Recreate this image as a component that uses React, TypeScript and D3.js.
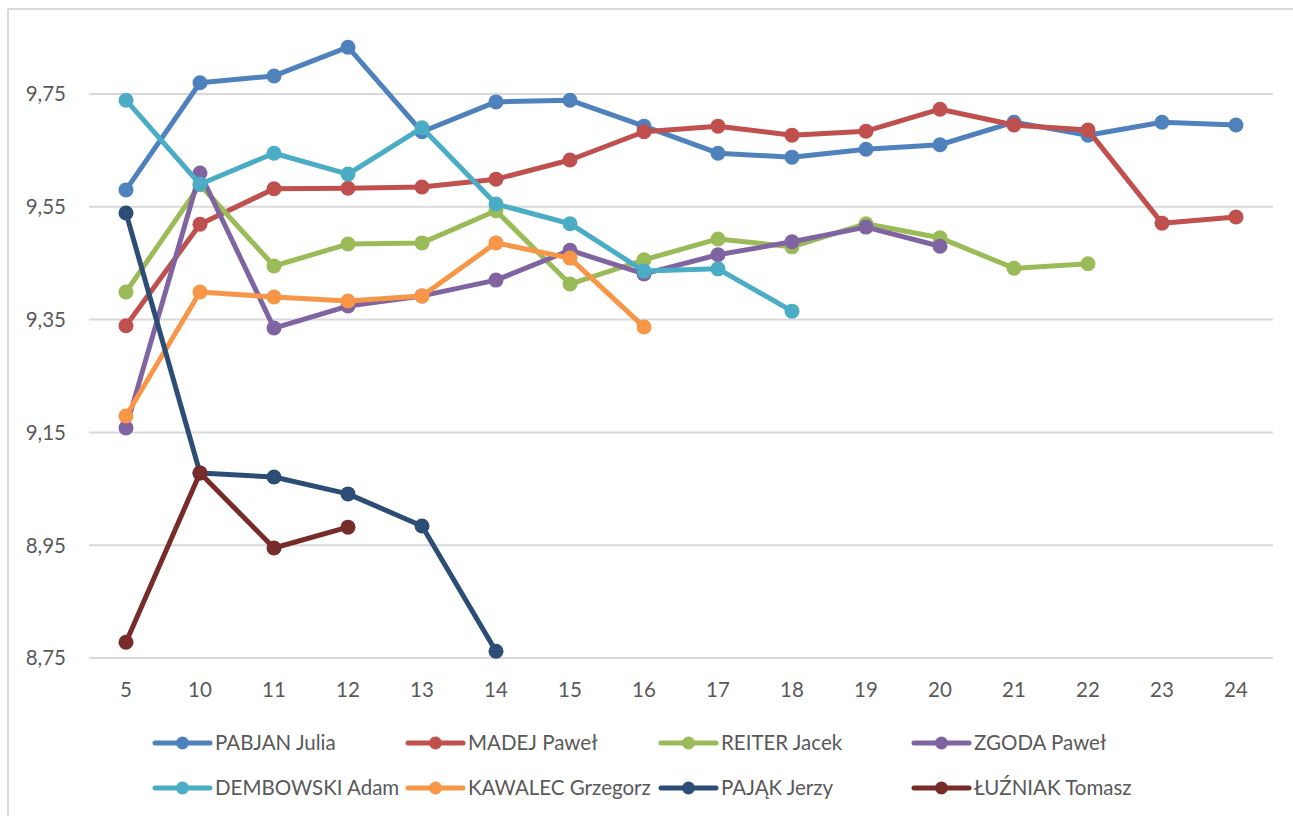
import React from 'react';
import * as d3 from 'd3';

// categories (x axis)
const categories = ['5', '10', '11', '12', '13', '14', '15', '16', '17', '18', '19', '20', '21', '22', '23', '24'];

// y ticks
const yTicks = [8.75, 8.95, 9.15, 9.35, 9.55, 9.75];

// series values (null = no value)
const pabjan = [9.58, 9.77, 9.782, 9.833, 9.683, 9.736, 9.739, 9.693, 9.645, 9.638, 9.652, 9.66, 9.7, 9.677, 9.7, 9.695];
const madej = [9.339, 9.519, 9.582, 9.583, 9.585, 9.599, 9.633, 9.683, 9.693, 9.677, 9.684, 9.723, 9.695, 9.686, 9.521, 9.532];
const reiter = [9.399, 9.589, 9.445, 9.484, 9.486, 9.543, 9.413, 9.456, 9.493, 9.479, 9.52, 9.495, 9.441, 9.449, null, null];
const zgoda = [9.158, 9.61, 9.335, 9.374, 9.392, 9.42, 9.473, 9.431, 9.465, 9.488, 9.514, 9.48, null, null, null, null];
const dembowski = [9.739, 9.59, 9.645, 9.608, 9.69, 9.555, 9.52, 9.436, 9.44, 9.365, null, null, null, null, null, null];
const kawalec = [9.179, 9.399, 9.39, 9.383, 9.392, 9.486, 9.459, 9.337, null, null, null, null, null, null, null, null];
const pajak = [9.539, 9.078, 9.071, 9.041, 8.984, 8.762, null, null, null, null, null, null, null, null, null, null];
const luzniak = [8.778, 9.078, 8.945, 8.982, null, null, null, null, null, null, null, null, null, null, null, null];

const seriesNames = ['PABJAN Julia', 'MADEJ Paweł', 'REITER Jacek', 'ZGODA Paweł', 'DEMBOWSKI Adam', 'KAWALEC Grzegorz', 'PAJĄK Jerzy', 'ŁUŹNIAK Tomasz'];
const seriesValues = [pabjan, madej, reiter, zgoda, dembowski, kawalec, pajak, luzniak];
const colors = ['#4F81BD', '#C0504D', '#9BBB59', '#8064A2', '#4BACC6', '#F79646', '#2C4D75', '#772C2A'];

const W = 1293;
const H = 816;
const FONT = 'Lato, "Open Sans", sans-serif';

const App = () => {
  const x = d3.scalePoint<string>().domain(categories).range([89, 1273]).padding(0.5);
  const y = d3.scaleLinear().domain([8.75, 9.95]).range([658, -18.8]);

  const line = d3
    .line<number | null>()
    .defined((d) => d !== null)
    .x((_, i) => x(categories[i]) as number)
    .y((d) => y(d as number));

  const fmt = (v: number) => v.toFixed(2).replace('.', ',');

  return (
    <svg width={W} height={H} style={{ position: 'absolute', left: 0, top: 0, background: '#fff' }}>
      {/* frame */}
      <line x1={8} x2={W} y1={9} y2={9} stroke="#D9D9D9" strokeWidth={2} />
      <line x1={8} x2={8} y1={9} y2={H} stroke="#D9D9D9" strokeWidth={2} />

      {/* gridlines + y labels */}
      {yTicks.map((t) => (
        <g key={t}>
          <line x1={89} x2={1273} y1={y(t)} y2={y(t)} stroke="#D9D9D9" strokeWidth={2} />
          <text x={66} y={y(t)} dy="0.36em" textAnchor="end" fontFamily={FONT} fontSize={20.5} fill="#595959">
            {fmt(t)}
          </text>
        </g>
      ))}

      {/* x labels */}
      {categories.map((c) => (
        <text key={c} x={x(c)} y={690} dy="0.36em" textAnchor="middle" fontFamily={FONT} fontSize={20.5} fill="#595959">
          {c}
        </text>
      ))}

      {/* series */}
      {seriesValues.map((vals, si) => (
        <g key={seriesNames[si]}>
          <path d={line(vals) || ''} fill="none" stroke={colors[si]} strokeWidth={5} strokeLinejoin="round" />
          {vals.map((v, i) =>
            v === null ? null : (
              <circle key={i} cx={x(categories[i])} cy={y(v)} r={7.5} fill={colors[si]} />
            )
          )}
        </g>
      ))}

      {/* legend */}
      {seriesNames.map((name, si) => {
        const lx = 155 + (si % 4) * 253;
        const ly = si < 4 ? 743 : 788;
        return (
          <g key={name}>
            <line x1={lx} x2={lx + 55} y1={ly} y2={ly} stroke={colors[si]} strokeWidth={5} strokeLinecap="round" />
            <circle cx={lx + 27.5} cy={ly} r={6.5} fill={colors[si]} />
            <text x={lx + 60} y={ly} dy="0.36em" fontFamily={FONT} fontSize={20.5} fill="#595959">
              {name}
            </text>
          </g>
        );
      })}
    </svg>
  );
};

export default App;
